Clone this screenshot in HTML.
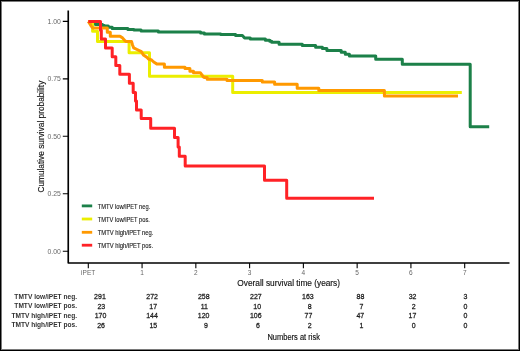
<!DOCTYPE html>
<html>
<head>
<meta charset="utf-8">
<style>
html,body{margin:0;padding:0;background:#fff;}
body{width:520px;height:351px;overflow:hidden;position:relative;font-family:"Liberation Sans",sans-serif;}
svg{position:absolute;left:0;top:0;display:block;}
text{font-family:"Liberation Sans",sans-serif;}
.cv{fill:none;stroke-width:3.0;stroke-linejoin:round;stroke-linecap:butt;}
</style>
</head>
<body>
<svg width="520" height="351" viewBox="0 0 520 351">
<filter id="bl" x="-5%" y="-5%" width="110%" height="110%"><feGaussianBlur stdDeviation="0.4"/></filter><filter id="bt" x="-5%" y="-5%" width="110%" height="110%"><feGaussianBlur stdDeviation="0.3"/></filter>
<rect x="0" y="0" width="520" height="351" fill="#fff"/>
<rect x="1.5" y="1.5" width="517" height="348" fill="none" stroke="#7a7a7a" stroke-width="1"/>
<rect x="0.5" y="0.5" width="519" height="350" fill="none" stroke="#000" stroke-width="1"/>
<g filter="url(#bl)"><!-- curves -->
<path class="cv" stroke="#1a8048" d="M88.3,21.4 L91,22.6 L93.5,23.9 L96,24.5 H102.5 V25.4 H104.5 V26.1 H108.3 V27.2 H112.2 V28.4 H127.9 V29.4 H134 V29.9 H141.1 V30.9 H158.4 V32 H200.6 V33 H204.4 V33.9 H220.8 V34.6 H235.6 V35.5 H242.4 L244.6,37.9 H250.3 V39.1 H265.4 V40.2 H269.8 V41.3 H271.7 V42.2 H279.1 V44.3 H302.3 V45.6 H315.6 V47.3 H322.4 V48.6 H326.9 V50.4 H341.2 V52.2 H345.3 V54.2 H349.4 V55.9 H375.7 V59.3 H402.3 V64.2 H470.2 V126.7 H489.2"/>
<path class="cv" stroke="#ebee00" d="M88.3,21.4 H92.6 V31.2 H97.5 V41.5 H129.1 V52.8 H149.5 V76.3 H232.7 V92.5 H461.8"/>
<path class="cv" stroke="#ff9900" d="M88.3,21.4 L89.5,23.3 L91,25.8 L92.8,28.1 H107.3 V32.3 H110.3 V36.2 H120 L122.7,38.1 L124.7,40.5 L126,41.4 H131.5 L132.5,45 L133.7,47.8 L137,49.5 L141.4,51.7 L143.4,55 L146.8,57.3 L148.5,59 L151.6,60 L153.7,62 L157.1,64.1 H164.4 V67.2 H185 V68.6 H189.9 V71.2 H193.5 V72.8 H200.3 L201.8,74.6 L203,76.6 L204.3,77.4 H207.2 V79.2 H227 V80.6 H262.3 V82.1 H274.6 V84.2 H297.2 V88.2 H318.8 V90.4 H384.4 V96 H458"/>
<path class="cv" stroke="#ff2226" d="M88.3,21.4 H100.5 V30.2 H101.3 V39.1 H105.5 V48 H112.2 V56.8 H115.8 V65.6 H119.8 V74.3 H129.4 V83.2 H133.2 V92.4 H135.5 V101 H136.5 V110 H141.2 V118.4 H150.7 V128.2 H174.5 V137.4 H178.1 V147 H179.3 V156.3 H185.2 V166 H264.5 V180.3 H286.7 V198.3 H374"/>

<!-- axes -->
<path d="M68.25,10.4 V263.0 H509.5" fill="none" stroke="#000" stroke-width="1.65" stroke-linejoin="round"/>
<g stroke="#000" stroke-width="1.1">
<path d="M62.8,21.4 H68 M62.8,78.85 H68 M62.8,136.3 H68 M62.8,193.75 H68 M62.8,251.2 H68"/>
<path d="M88.3,263 V268.2 M142.07,263 V268.2 M195.84,263 V268.2 M249.61,263 V268.2 M303.38,263 V268.2 M357.15,263 V268.2 M410.92,263 V268.2 M464.69,263 V268.2"/>
</g>
<!-- legend -->
<rect x="81.8" y="204.5" width="10.4" height="2.8" fill="#1a8048"/>
<rect x="81.8" y="217.6" width="10.4" height="2.8" fill="#ebee00"/>
<rect x="81.8" y="230.9" width="10.4" height="2.8" fill="#ff9900"/>
<rect x="81.8" y="243.8" width="10.4" height="2.8" fill="#ff2226"/>
</g>
<g filter="url(#bt)"><text x="47.54" y="23.85" font-size="6.85" fill="#666">1.00</text>
<text x="47.56" y="81.30" font-size="6.85" fill="#666">0.75</text>
<text x="47.54" y="138.75" font-size="6.85" fill="#666">0.50</text>
<text x="47.56" y="196.20" font-size="6.85" fill="#666">0.25</text>
<text x="47.54" y="253.65" font-size="6.85" fill="#666">0.00</text>
<text x="81.11" y="275.30" font-size="6.5" fill="#666">iPET</text>
<text x="140.17" y="275.30" font-size="6.5" fill="#666">1</text>
<text x="194.03" y="275.30" font-size="6.5" fill="#666">2</text>
<text x="247.82" y="275.30" font-size="6.5" fill="#666">3</text>
<text x="301.59" y="275.30" font-size="6.5" fill="#666">4</text>
<text x="355.35" y="275.30" font-size="6.5" fill="#666">5</text>
<text x="409.09" y="275.30" font-size="6.5" fill="#666">6</text>
<text x="462.88" y="275.30" font-size="6.5" fill="#666">7</text>
<text transform="translate(237.34,285.80) scale(1,1.04)" font-size="8.3" fill="#111" stroke="#111" stroke-width="0.14" stroke-linejoin="round">Overall survival time (years)</text>
<text transform="translate(44.10,136.35) rotate(-90) scale(1,1.04)" x="-56.25" y="0" font-size="8.3" fill="#111" stroke="#111" stroke-width="0.14" stroke-linejoin="round">Cumulative survival probability</text>
<text transform="translate(267.43,340.50) scale(1,1.1)" font-size="7.5" fill="#111" stroke="#111" stroke-width="0.14" stroke-linejoin="round">Numbers at risk</text>
<text transform="translate(97.77,208.70) scale(1,1.1)" font-size="5.75" fill="#1a1a1a" stroke="#1a1a1a" stroke-width="0.1" stroke-linejoin="round">TMTV low/iPET neg.</text>
<text transform="translate(97.77,221.70) scale(1,1.1)" font-size="5.75" fill="#1a1a1a" stroke="#1a1a1a" stroke-width="0.1" stroke-linejoin="round">TMTV low/iPET pos.</text>
<text transform="translate(97.77,234.55) scale(1,1.1)" font-size="5.85" fill="#1a1a1a" stroke="#1a1a1a" stroke-width="0.1" stroke-linejoin="round">TMTV high/iPET neg.</text>
<text transform="translate(97.77,247.60) scale(1,1.1)" font-size="5.85" fill="#1a1a1a" stroke="#1a1a1a" stroke-width="0.1" stroke-linejoin="round">TMTV high/iPET pos.</text>
<text transform="translate(14.35,299.00) scale(1,1.06)" font-size="6.6" font-weight="bold" fill="#333">TMTV low/iPET neg.</text>
<text transform="translate(14.35,308.45) scale(1,1.06)" font-size="6.6" font-weight="bold" fill="#333">TMTV low/iPET pos.</text>
<text transform="translate(11.42,317.60) scale(1,1.06)" font-size="6.6" font-weight="bold" fill="#333">TMTV high/iPET neg.</text>
<text transform="translate(11.42,327.20) scale(1,1.06)" font-size="6.6" font-weight="bold" fill="#333">TMTV high/iPET pos.</text>
<text transform="translate(94.11,299.30) scale(1,1.1)" font-size="7.0" fill="#1a1a1a" stroke="#1a1a1a" stroke-width="0.24" stroke-linejoin="round">291</text>
<text transform="translate(97.38,308.75) scale(1,1.1)" font-size="7.0" fill="#1a1a1a" stroke="#1a1a1a" stroke-width="0.24" stroke-linejoin="round">23</text>
<text transform="translate(94.68,317.90) scale(1,1.1)" font-size="7.0" fill="#1a1a1a" stroke="#1a1a1a" stroke-width="0.24" stroke-linejoin="round">170</text>
<text transform="translate(97.23,327.50) scale(1,1.1)" font-size="7.0" fill="#1a1a1a" stroke="#1a1a1a" stroke-width="0.24" stroke-linejoin="round">26</text>
<text transform="translate(146.26,299.30) scale(1,1.1)" font-size="7.0" fill="#1a1a1a" stroke="#1a1a1a" stroke-width="0.24" stroke-linejoin="round">272</text>
<text transform="translate(149.32,308.75) scale(1,1.1)" font-size="7.0" fill="#1a1a1a" stroke="#1a1a1a" stroke-width="0.24" stroke-linejoin="round">17</text>
<text transform="translate(146.20,317.90) scale(1,1.1)" font-size="7.0" fill="#1a1a1a" stroke="#1a1a1a" stroke-width="0.24" stroke-linejoin="round">144</text>
<text transform="translate(149.44,327.50) scale(1,1.1)" font-size="7.0" fill="#1a1a1a" stroke="#1a1a1a" stroke-width="0.24" stroke-linejoin="round">15</text>
<text transform="translate(197.89,299.30) scale(1,1.1)" font-size="7.0" fill="#1a1a1a" stroke="#1a1a1a" stroke-width="0.24" stroke-linejoin="round">258</text>
<text transform="translate(200.66,308.75) scale(1,1.1)" font-size="7.0" fill="#1a1a1a" stroke="#1a1a1a" stroke-width="0.24" stroke-linejoin="round">11</text>
<text transform="translate(197.78,317.90) scale(1,1.1)" font-size="7.0" fill="#1a1a1a" stroke="#1a1a1a" stroke-width="0.24" stroke-linejoin="round">120</text>
<text transform="translate(204.01,327.50) scale(1,1.1)" font-size="7.0" fill="#1a1a1a" stroke="#1a1a1a" stroke-width="0.24" stroke-linejoin="round">9</text>
<text transform="translate(250.06,299.30) scale(1,1.1)" font-size="7.0" fill="#1a1a1a" stroke="#1a1a1a" stroke-width="0.24" stroke-linejoin="round">227</text>
<text transform="translate(253.33,308.75) scale(1,1.1)" font-size="7.0" fill="#1a1a1a" stroke="#1a1a1a" stroke-width="0.24" stroke-linejoin="round">10</text>
<text transform="translate(249.95,317.90) scale(1,1.1)" font-size="7.0" fill="#1a1a1a" stroke="#1a1a1a" stroke-width="0.24" stroke-linejoin="round">106</text>
<text transform="translate(255.88,327.50) scale(1,1.1)" font-size="7.0" fill="#1a1a1a" stroke="#1a1a1a" stroke-width="0.24" stroke-linejoin="round">6</text>
<text transform="translate(302.10,299.30) scale(1,1.1)" font-size="7.0" fill="#1a1a1a" stroke="#1a1a1a" stroke-width="0.24" stroke-linejoin="round">163</text>
<text transform="translate(307.80,308.75) scale(1,1.1)" font-size="7.0" fill="#1a1a1a" stroke="#1a1a1a" stroke-width="0.24" stroke-linejoin="round">8</text>
<text transform="translate(304.55,317.90) scale(1,1.1)" font-size="7.0" fill="#1a1a1a" stroke="#1a1a1a" stroke-width="0.24" stroke-linejoin="round">77</text>
<text transform="translate(307.80,327.50) scale(1,1.1)" font-size="7.0" fill="#1a1a1a" stroke="#1a1a1a" stroke-width="0.24" stroke-linejoin="round">2</text>
<text transform="translate(356.51,299.30) scale(1,1.1)" font-size="7.0" fill="#1a1a1a" stroke="#1a1a1a" stroke-width="0.24" stroke-linejoin="round">88</text>
<text transform="translate(359.55,308.75) scale(1,1.1)" font-size="7.0" fill="#1a1a1a" stroke="#1a1a1a" stroke-width="0.24" stroke-linejoin="round">7</text>
<text transform="translate(356.45,317.90) scale(1,1.1)" font-size="7.0" fill="#1a1a1a" stroke="#1a1a1a" stroke-width="0.24" stroke-linejoin="round">47</text>
<text transform="translate(359.51,327.50) scale(1,1.1)" font-size="7.0" fill="#1a1a1a" stroke="#1a1a1a" stroke-width="0.24" stroke-linejoin="round">1</text>
<text transform="translate(408.65,299.30) scale(1,1.1)" font-size="7.0" fill="#1a1a1a" stroke="#1a1a1a" stroke-width="0.24" stroke-linejoin="round">32</text>
<text transform="translate(411.65,308.75) scale(1,1.1)" font-size="7.0" fill="#1a1a1a" stroke="#1a1a1a" stroke-width="0.24" stroke-linejoin="round">2</text>
<text transform="translate(408.57,317.90) scale(1,1.1)" font-size="7.0" fill="#1a1a1a" stroke="#1a1a1a" stroke-width="0.24" stroke-linejoin="round">17</text>
<text transform="translate(411.70,327.50) scale(1,1.1)" font-size="7.0" fill="#1a1a1a" stroke="#1a1a1a" stroke-width="0.24" stroke-linejoin="round">0</text>
<text transform="translate(463.47,299.30) scale(1,1.1)" font-size="7.0" fill="#1a1a1a" stroke="#1a1a1a" stroke-width="0.24" stroke-linejoin="round">3</text>
<text transform="translate(463.50,308.75) scale(1,1.1)" font-size="7.0" fill="#1a1a1a" stroke="#1a1a1a" stroke-width="0.24" stroke-linejoin="round">0</text>
<text transform="translate(463.50,317.90) scale(1,1.1)" font-size="7.0" fill="#1a1a1a" stroke="#1a1a1a" stroke-width="0.24" stroke-linejoin="round">0</text>
<text transform="translate(463.50,327.50) scale(1,1.1)" font-size="7.0" fill="#1a1a1a" stroke="#1a1a1a" stroke-width="0.24" stroke-linejoin="round">0</text>
</g></svg>
</body>
</html>
